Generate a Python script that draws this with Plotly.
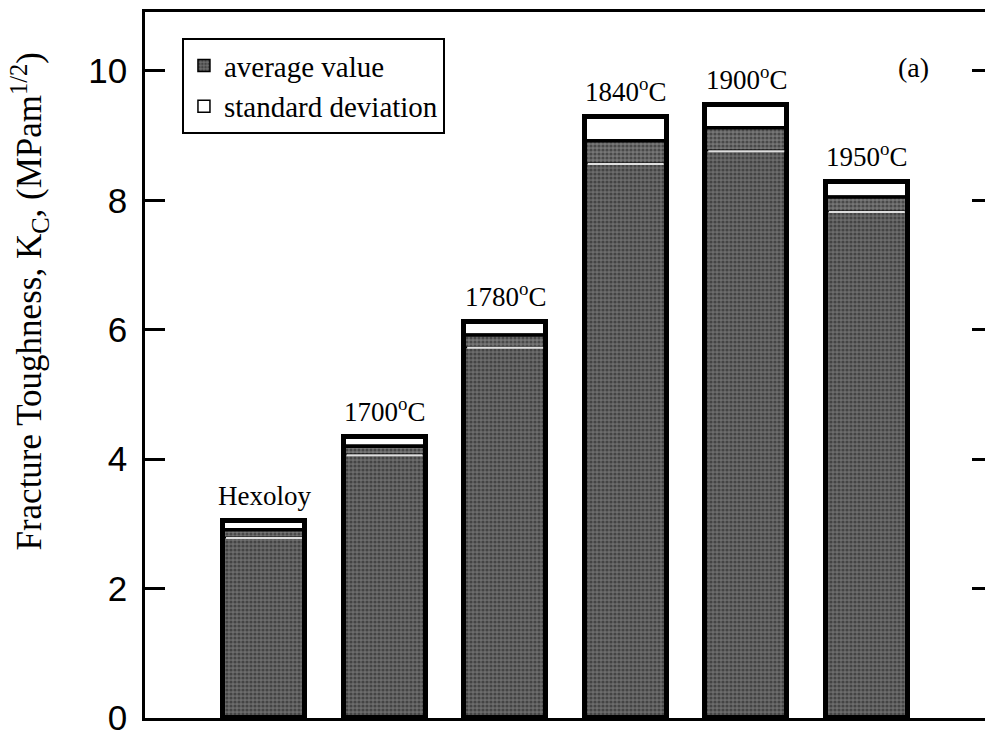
import plotly.graph_objects as go

# Fracture toughness of the sintered samples (MPa·m^1/2)
samples = ["Hexoloy", "1700°C", "1780°C", "1840°C", "1900°C", "1950°C"]
bar_labels = ["Hexoloy", "1700<sup>o</sup>C", "1780<sup>o</sup>C",
              "1840<sup>o</sup>C", "1900<sup>o</sup>C", "1950<sup>o</sup>C"]
avg_kc = [2.91, 4.20, 5.92, 8.92, 9.12, 8.05]
sd_kc = [0.13, 0.14, 0.20, 0.36, 0.36, 0.23]
y_ticks = [0, 2, 4, 6, 8, 10]

SERIF = "Liberation Serif, Times New Roman, serif"
SANS = "Liberation Sans, Arial, sans-serif"
BAR_W = 0.68
X_RANGE = [-0.987, 5.98]
Y_RANGE = [0, 10.91]

xs = list(range(len(samples)))
lower = [a - s for a, s in zip(avg_kc, sd_kc)]
upper = [a + s for a, s in zip(avg_kc, sd_kc)]

halftone = dict(shape=".", fgcolor="#1c1c1c", bgcolor="#6c6c6c", size=4, solidity=0.5)

fig = go.Figure()

# white standard-deviation cap above the mean
fig.add_trace(go.Bar(
    x=xs, y=sd_kc, base=avg_kc, width=BAR_W, name="standard deviation",
    marker=dict(color="white", line=dict(color="black", width=1.5)),
    legendrank=2, hoverinfo="skip"))
# band between mean - sd and mean
fig.add_trace(go.Bar(
    x=xs, y=sd_kc, base=lower, width=BAR_W, showlegend=False,
    marker=dict(color="#555555", line=dict(width=0),
                pattern=dict(halftone, bgcolor="#767676")),
    hoverinfo="skip"))
# main body of the mean value
fig.add_trace(go.Bar(
    x=xs, y=lower, base=[0] * len(xs), width=BAR_W, name="average value",
    marker=dict(color="#505050", line=dict(color="black", width=1.5),
                pattern=halftone),
    legendrank=1, hoverinfo="skip"))
# heavy outline around each whole bar
fig.add_trace(go.Bar(
    x=xs, y=upper, base=[0] * len(xs), width=BAR_W, showlegend=False,
    marker=dict(color="rgba(0,0,0,0)", line=dict(color="black", width=5)),
    hoverinfo="skip"))

# separator lines: black at the mean, light at mean - sd
for i in xs:
    fig.add_trace(go.Scatter(
        x=[i - BAR_W / 2, i + BAR_W / 2], y=[avg_kc[i], avg_kc[i]],
        mode="lines", line=dict(color="black", width=3.5),
        showlegend=False, hoverinfo="skip"))
    fig.add_trace(go.Scatter(
        x=[i - BAR_W / 2 + 0.025, i + BAR_W / 2 - 0.025], y=[lower[i], lower[i]],
        mode="lines", line=dict(color="#dedede", width=2),
        showlegend=False, hoverinfo="skip"))

# sample labels above the bars
for i in xs:
    fig.add_annotation(
        x=i, y=upper[i], text=bar_labels[i], showarrow=False,
        yanchor="bottom", yshift=8, xref="x", yref="y",
        font=dict(family=SERIF, size=27, color="black"))

# panel tag
fig.add_annotation(
    x=0.915, y=0.922, xref="paper", yref="paper", text="(a)", showarrow=False,
    xanchor="center", yanchor="middle",
    font=dict(family=SERIF, size=28, color="black"))

# y-axis title
fig.add_annotation(
    x=-0.138, y=0.59, xref="paper", yref="paper",
    text="Fracture Toughness, K<sub>C</sub>, (MPam<sup>1/2</sup>)",
    showarrow=False, textangle=-90, xanchor="center", yanchor="middle",
    font=dict(family=SERIF, size=35, color="black"))

fig.update_layout(
    width=985, height=740,
    margin=dict(l=145, r=0, t=12, b=22),
    paper_bgcolor="white", plot_bgcolor="white",
    barmode="overlay", bargap=0,
    showlegend=True,
    legend=dict(x=0.044, y=0.963, xanchor="left", yanchor="top",
                bgcolor="white", bordercolor="black", borderwidth=2,
                font=dict(family=SERIF, size=29, color="black"),
                traceorder="normal", itemwidth=30, tracegroupgap=0),
    xaxis=dict(range=X_RANGE, showgrid=False, zeroline=False,
               showticklabels=False, ticks="", showline=True, mirror=True,
               linecolor="black", linewidth=2.5),
    yaxis=dict(range=Y_RANGE, tickvals=y_ticks, showgrid=False, zeroline=False,
               ticks="inside", ticklen=20, tickwidth=2.5, tickcolor="black",
               showline=True, linecolor="black", linewidth=2.5,
               ticklabelstandoff=8,
               tickfont=dict(family=SANS, size=35, color="black")),
    yaxis2=dict(range=Y_RANGE, tickvals=y_ticks, overlaying="y", side="right",
                showgrid=False, zeroline=False, showticklabels=False,
                ticks="inside", ticklen=13, tickwidth=2.5, tickcolor="black",
                showline=False),
)

# invisible trace so the right-hand tick axis is rendered
fig.add_trace(go.Scatter(x=[0], y=[0], yaxis="y2", mode="markers",
                         marker=dict(opacity=0), showlegend=False, hoverinfo="skip"))

fig.write_html("out.html")
